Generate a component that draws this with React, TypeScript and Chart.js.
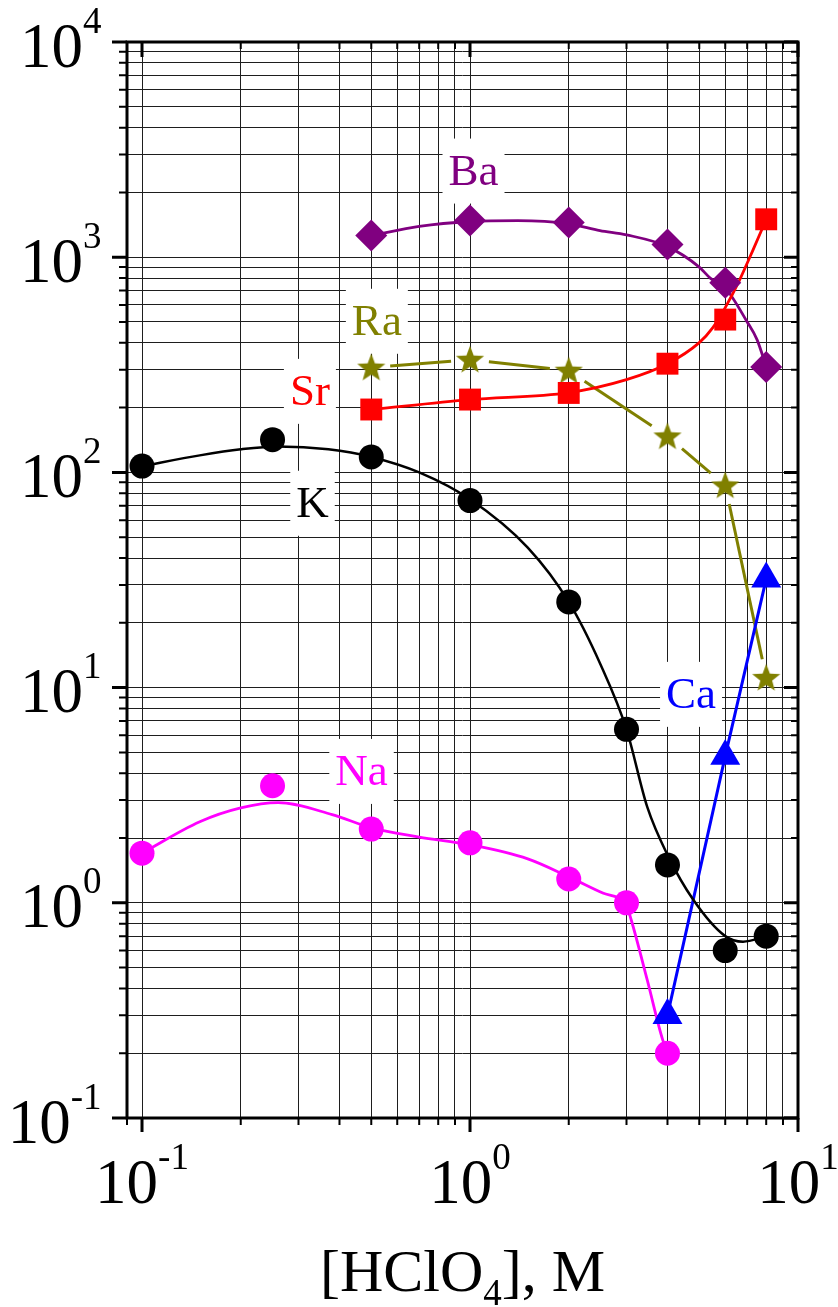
import { useEffect, useRef } from 'react';
import { Chart, registerables } from 'chart.js';

Chart.register(...registerables);

const SERIF = '"Liberation Serif", "Times New Roman", Times, serif';

// Measured distribution coefficients vs. acid concentration
const kX = [0.1, 0.25, 0.5, 1, 2, 3, 4, 6, 8];
const kD = [107, 142, 118, 74, 25, 6.4, 1.5, 0.6, 0.7];
const naX = [0.1, 0.25, 0.5, 1, 2, 3, 4];
const naD = [1.7, 3.5, 2.2, 1.9, 1.29, 1.0, 0.2];
const caX = [4, 6, 8];
const caD = [0.3, 4.8, 32];
const heavyX = [0.5, 1, 2, 4, 6, 8];
const srD = [196, 218, 234, 320, 513, 1500];
const baD = [1260, 1480, 1450, 1145, 760, 309];
const raD = [307, 334, 297, 147, 87, 11.1];

// Smooth fitted curves
const kFitX = [0.1, 0.15, 0.2, 0.26, 0.37, 0.5, 0.7, 1, 1.5, 2, 2.5, 3, 3.47, 4, 4.8, 6, 6.8, 8];
const kFitY = [107, 120, 128, 132, 128, 118, 100, 75, 44.7, 25, 12.8, 6.4, 2.79, 1.67, 1.03, 0.7, 0.66, 0.7];
const naFitX = [0.1, 0.15, 0.2, 0.26, 0.38, 0.5, 0.7, 1, 1.5, 2, 2.54, 3, 3.1, 3.47, 3.87, 4];
const naFitY = [1.7, 2.38, 2.76, 2.92, 2.57, 2.23, 2.02, 1.86, 1.6, 1.32, 1.11, 0.968, 0.834, 0.438, 0.23, 0.203];
const srFitX = [0.5, 1, 2, 3, 4, 5, 5.5, 6, 6.6, 7.3, 8];
const srFitY = [196, 218, 235, 270, 320, 401, 471, 583, 770, 1085, 1500];
const baFitX = [0.5, 0.7, 1, 1.4, 2, 2.49, 3, 4, 5, 5.4, 6, 7, 7.5, 8];
const baFitY = [1260, 1390, 1465, 1480, 1430, 1330, 1270, 1120, 900, 800, 720, 500, 414, 310];

// Axis ticks
const xRange = [0.09, 10];
const yRange = [0.1, 10000];
const xMajorTicks = [0.1, 1, 10];
const xMajorExp = ['-1', '0', '1'];
const yMajorTicks = [0.1, 1, 10, 100, 1000, 10000];
const yMajorExp = ['-1', '0', '1', '2', '3', '4'];
const minorMultipliers = [2, 3, 4, 5, 6, 7, 8, 9];

// Series captions: text, colour and anchor (centre x, baseline y) in data units
const captionText = ['Ba', 'Ra', 'Sr', 'K', 'Ca', 'Na'];
const captionColor = ['#800080', '#808000', '#FF0000', '#000000', '#0000FF', '#FF00FF'];
const captionAnchorX = [1.025, 0.52, 0.325, 0.331, 4.72, 0.467];
const captionAnchorY = [2175, 436, 206, 62.2, 8.05, 3.53];

const pts = (xs: number[], ys: number[]) => xs.map((x, i) => ({ x, y: ys[i] }));

function minorTicks(majors: number[], lo: number, hi: number) {
  const out: number[] = [];
  const decades = [majors[0] / 10, ...majors];
  decades.forEach((d) => {
    minorMultipliers.forEach((m) => {
      const v = +(d * m).toPrecision(6);
      if (v >= lo - 1e-12 && v <= hi + 1e-12) out.push(v);
    });
  });
  return out;
}

function makeStar(color: string, outer: number) {
  const size = Math.ceil(outer * 2 + 2);
  const c = document.createElement('canvas');
  c.width = size;
  c.height = size;
  const g = c.getContext('2d')!;
  const cx = size / 2;
  const cy = size / 2 + outer * 0.05;
  const inner = outer * 0.42;
  g.beginPath();
  for (let i = 0; i < 10; i++) {
    const r = i % 2 === 0 ? outer : inner;
    const a = -Math.PI / 2 + (i * Math.PI) / 5;
    const px = cx + r * Math.cos(a);
    const py = cy + r * Math.sin(a);
    if (i === 0) g.moveTo(px, py);
    else g.lineTo(px, py);
  }
  g.closePath();
  g.fillStyle = color;
  g.fill();
  return c;
}

function drawPower(ctx: CanvasRenderingContext2D, exp: string, x: number, baseline: number, align: 'right' | 'center') {
  ctx.font = `63px ${SERIF}`;
  const w1 = ctx.measureText('10').width;
  ctx.font = `37px ${SERIF}`;
  const w2 = ctx.measureText(exp).width;
  const x0 = align === 'right' ? x - w1 - w2 : x - (w1 + w2) / 2;
  ctx.textAlign = 'left';
  ctx.textBaseline = 'alphabetic';
  ctx.fillStyle = '#000';
  ctx.font = `63px ${SERIF}`;
  ctx.fillText('10', x0, baseline);
  ctx.font = `37px ${SERIF}`;
  ctx.fillText(exp, x0 + w1, baseline - 34);
}

const RA_INDEX = 5;

const framePlugin = {
  id: 'frameAndText',
  beforeDatasetsDraw(chart: any) {
    const ctx: CanvasRenderingContext2D = chart.ctx;
    const xs = chart.scales.x;
    const ys = chart.scales.y;
    ctx.save();
    // caption boxes
    ctx.font = `45px ${SERIF}`;
    captionText.forEach((t, i) => {
      const cx = xs.getPixelForValue(captionAnchorX[i]);
      const by = ys.getPixelForValue(captionAnchorY[i]);
      const w = ctx.measureText(t).width;
      ctx.fillStyle = '#fff';
      ctx.fillRect(cx - w / 2 - 6, by - 46, w + 12, 65);
      ctx.fillStyle = captionColor[i];
      ctx.textAlign = 'center';
      ctx.textBaseline = 'alphabetic';
      ctx.fillText(t, cx, by);
    });
    // Ra connecting segments, stopped short of each symbol
    const meta = chart.getDatasetMeta(RA_INDEX);
    const gap = 19;
    ctx.strokeStyle = '#808000';
    ctx.lineWidth = 3;
    ctx.lineCap = 'butt';
    for (let i = 0; i < meta.data.length - 1; i++) {
      const a = meta.data[i];
      const b = meta.data[i + 1];
      const dx = b.x - a.x;
      const dy = b.y - a.y;
      const len = Math.hypot(dx, dy);
      if (len <= gap * 2) continue;
      const ux = dx / len;
      const uy = dy / len;
      ctx.beginPath();
      ctx.moveTo(a.x + ux * gap, a.y + uy * gap);
      ctx.lineTo(b.x - ux * gap, b.y - uy * gap);
      ctx.stroke();
    }
    ctx.restore();
  },
  afterDraw(chart: any) {
    const ctx: CanvasRenderingContext2D = chart.ctx;
    const { left, right, top, bottom } = chart.chartArea;
    const xs = chart.scales.x;
    const ys = chart.scales.y;
    ctx.save();
    ctx.strokeStyle = '#000';
    ctx.lineCap = 'butt';
    // minor ticks
    ctx.lineWidth = 2;
    ctx.beginPath();
    minorTicks(yMajorTicks, yRange[0], yRange[1]).forEach((v) => {
      const y = ys.getPixelForValue(v);
      ctx.moveTo(left - 8, y);
      ctx.lineTo(left, y);
      ctx.moveTo(right - 7, y);
      ctx.lineTo(right, y);
    });
    minorTicks(xMajorTicks, xRange[0], xRange[1]).forEach((v) => {
      const x = xs.getPixelForValue(v);
      ctx.moveTo(x, bottom);
      ctx.lineTo(x, bottom + 7);
      ctx.moveTo(x, top);
      ctx.lineTo(x, top + 7);
    });
    ctx.stroke();
    // major ticks
    ctx.lineWidth = 3;
    ctx.beginPath();
    yMajorTicks.forEach((v) => {
      const y = ys.getPixelForValue(v);
      ctx.moveTo(left - 15, y);
      ctx.lineTo(left, y);
      ctx.moveTo(right - 14, y);
      ctx.lineTo(right, y);
    });
    xMajorTicks.forEach((v) => {
      const x = xs.getPixelForValue(v);
      ctx.moveTo(x, bottom);
      ctx.lineTo(x, bottom + 14);
      ctx.moveTo(x, top);
      ctx.lineTo(x, top + 15);
    });
    ctx.stroke();
    // frame
    ctx.lineWidth = 3;
    ctx.strokeRect(left, top, right - left, bottom - top);
    // tick labels
    yMajorTicks.forEach((v, i) => drawPower(ctx, yMajorExp[i], 101.5, ys.getPixelForValue(v) + 24.5, 'right'));
    xMajorTicks.forEach((v, i) => drawPower(ctx, xMajorExp[i], xs.getPixelForValue(v), bottom + 85, 'center'));
    // axis title with subscript
    const parts: [string, number, number][] = [
      ['[HClO', 60, 0],
      ['4', 37, 14],
      ['], M', 60, 0],
    ];
    let total = 0;
    parts.forEach(([t, s]) => {
      ctx.font = `${s}px ${SERIF}`;
      total += ctx.measureText(t).width;
    });
    let tx = (left + right) / 2 - total / 2;
    const tb = bottom + 173;
    ctx.textAlign = 'left';
    ctx.fillStyle = '#000';
    parts.forEach(([t, s, dy]) => {
      ctx.font = `${s}px ${SERIF}`;
      ctx.fillText(t, tx, tb + dy);
      tx += ctx.measureText(t).width;
    });
    ctx.restore();
  },
};

export default function App() {
  const ref = useRef<HTMLCanvasElement | null>(null);

  useEffect(() => {
    const canvas = ref.current;
    if (!canvas) return;
    const star = makeStar('#808000', 14.8);
    const xTicks = [...xMajorTicks, ...minorTicks(xMajorTicks, xRange[0], xRange[1])].sort((a, b) => a - b);
    const yTicks = [...yMajorTicks, ...minorTicks(yMajorTicks, yRange[0], yRange[1])].sort((a, b) => a - b);

    const marker = (label: string, data: any[], color: string, style: any, radius: number) => ({
      label,
      data,
      showLine: false,
      pointStyle: style,
      pointRadius: radius,
      pointHoverRadius: radius,
      pointBackgroundColor: color,
      pointBorderColor: color,
      pointBorderWidth: 0,
      backgroundColor: color,
      borderColor: color,
      order: 0,
    });
    const curve = (label: string, data: any[], color: string, width: number, smooth: boolean) => ({
      label,
      data,
      showLine: true,
      pointRadius: 0,
      pointHoverRadius: 0,
      borderColor: color,
      backgroundColor: color,
      borderWidth: width,
      fill: false,
      cubicInterpolationMode: smooth ? 'monotone' : 'default',
      tension: 0,
      order: 5,
    });

    const chart = new Chart(canvas, {
      type: 'scatter',
      data: {
        datasets: [
          marker('K', pts(kX, kD), '#000000', 'circle', 12.5),
          marker('Na', pts(naX, naD), '#FF00FF', 'circle', 12.5),
          marker('Ca', pts(caX, caD), '#0000FF', 'triangle', 17.3),
          marker('Sr', pts(heavyX, srD), '#FF0000', 'rect', 15.5),
          marker('Ba', pts(heavyX, baD), '#800080', 'rectRot', 16),
          marker('Ra', pts(heavyX, raD), '#808000', star, 15),
          curve('K fit', pts(kFitX, kFitY), '#000000', 2.5, true),
          curve('Na fit', pts(naFitX, naFitY), '#FF00FF', 2.8, true),
          curve('Sr fit', pts(srFitX, srFitY), '#FF0000', 2.8, true),
          curve('Ba fit', pts(baFitX, baFitY), '#800080', 2.8, true),
          curve('Ca line', pts(caX, caD), '#0000FF', 3, false),
        ] as any,
      },
      options: {
        animation: false,
        responsive: false,
        devicePixelRatio: 1,
        events: [],
        layout: { padding: { left: 127, right: 40, top: 42, bottom: 189 } },
        plugins: { legend: { display: false }, tooltip: { enabled: false }, title: { display: false } },
        scales: {
          x: {
            type: 'logarithmic',
            min: xRange[0],
            max: xRange[1],
            afterBuildTicks: (s: any) => {
              s.ticks = xTicks.map((value) => ({ value }));
            },
            afterFit: (s: any) => {
              s.height = 0;
            },
            ticks: { display: false },
            grid: { color: '#1e1e1e', lineWidth: 1, drawTicks: false },
            border: { display: false },
          },
          y: {
            type: 'logarithmic',
            min: yRange[0],
            max: yRange[1],
            afterBuildTicks: (s: any) => {
              s.ticks = yTicks.map((value) => ({ value }));
            },
            afterFit: (s: any) => {
              s.width = 0;
            },
            ticks: { display: false },
            grid: { color: '#1e1e1e', lineWidth: 1, drawTicks: false },
            border: { display: false },
          },
        },
      } as any,
      plugins: [framePlugin],
    });
    return () => chart.destroy();
  }, []);

  return (
    <div style={{ position: 'absolute', left: 0, top: 0, width: 838, height: 1307, background: '#fff' }}>
      <canvas ref={ref} width={838} height={1307} style={{ display: 'block' }} />
    </div>
  );
}
